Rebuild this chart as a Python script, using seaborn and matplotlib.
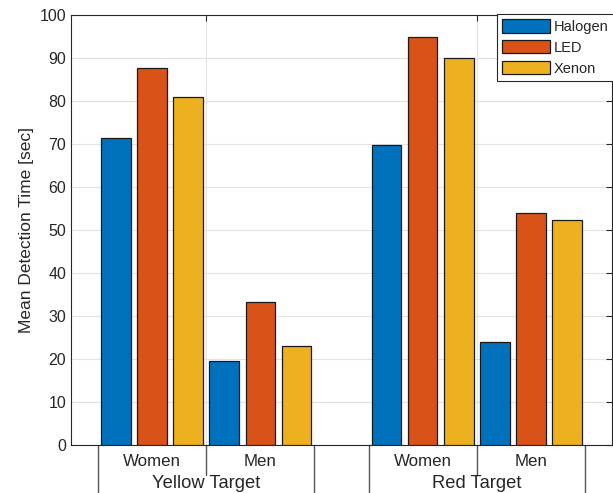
import pandas as pd
import seaborn as sns
import matplotlib.pyplot as plt
from matplotlib.patches import Patch
import matplotlib.transforms as mtransforms

# chart values (order: Yellow/Women, Yellow/Men, Red/Women, Red/Men)
targets = ['Yellow Target', 'Red Target']
genders = ['Women', 'Men']
lamps = ['Halogen', 'LED', 'Xenon']
halogen = [71.4, 19.6, 69.8, 24.0]
led = [87.6, 33.2, 95.0, 53.9]
xenon = [80.9, 23.1, 90.1, 52.3]

colors = {'Halogen': '#0072BD', 'LED': '#D95319', 'Xenon': '#EDB120'}

# long-form table for seaborn
rows = []
values = {'Halogen': halogen, 'LED': led, 'Xenon': xenon}
for ti, t in enumerate(targets):
    for gi, g in enumerate(genders):
        for lamp in lamps:
            rows.append({'target': t, 'gender': g, 'lamp': lamp,
                         'combo': g + ' ' + lamp,
                         'time': values[lamp][ti * 2 + gi]})
df = pd.DataFrame(rows)
hue_order = [g + ' ' + l for g in genders for l in lamps]
palette = {g + ' ' + l: colors[l] for g in genders for l in lamps}

sns.set_style('white')
plt.rcParams['font.family'] = ['Liberation Sans', 'DejaVu Sans']

fig = plt.figure(figsize=(6.13, 4.93), dpi=100)
ax = fig.add_axes([71 / 613, 48 / 493, 541 / 613, 430 / 493])

sns.barplot(data=df, x='target', y='time', hue='combo', order=targets,
            hue_order=hue_order, palette=palette, width=0.8, gap=0.18,
            saturation=1, edgecolor='#1a1a1a', linewidth=0.9, errorbar=None,
            legend=False, ax=ax, zorder=3)

ax.set_xlim(-0.5, 1.5)
ax.set_ylim(0, 100)
ax.set_yticks(range(0, 101, 10))
ax.set_xticks([0, 1])
ax.set_xticklabels(['', ''])
ax.set_xlabel('')
ax.set_ylabel('Mean Detection Time [sec]', fontsize=12.5, color='#262626')
ax.grid(True, color='#e3e3e3', linewidth=0.8, zorder=0)
ax.set_axisbelow(True)
ax.tick_params(axis='both', direction='in', top=True, right=True,
               length=4, width=0.8, colors='#262626', labelsize=11.5)
ax.tick_params(axis='x', pad=0)
for s in ax.spines.values():
    s.set_color('#262626')
    s.set_linewidth(0.8)

# grouped category labels under the axis
trans = mtransforms.blended_transform_factory(ax.transData, ax.transAxes)
px = 1 / 430
for ti, t in enumerate(targets):
    for edge in (ti - 0.4, ti + 0.4):
        ax.plot([edge, edge], [0, -48 * px], transform=trans, color='#555555',
                linewidth=1, clip_on=False)
    ax.plot([ti, ti], [0, -30 * px], transform=trans, color='#555555',
            linewidth=1, clip_on=False)
    for gi, g in enumerate(genders):
        ax.text(ti - 0.2 + 0.4 * gi, -17 * px, g, transform=trans,
                ha='center', va='center', fontsize=12.2, color='#262626')
    ax.text(ti, -39 * px, t, transform=trans, ha='center', va='center',
            fontsize=13.2, color='#262626')

handles = [Patch(facecolor=colors[l], edgecolor='#1a1a1a', linewidth=0.9)
           for l in lamps]
leg = ax.legend(handles, lamps, loc='upper left',
                bbox_to_anchor=(497 / 613, 479 / 493),
                bbox_transform=fig.transFigure, fontsize=10.5,
                handlelength=3.3, handleheight=1.05, labelspacing=0.42,
                borderpad=0.35, handletextpad=0.25, borderaxespad=0,
                fancybox=False, framealpha=1, edgecolor='#262626')
leg.get_frame().set_linewidth(0.8)

fig.savefig('out.png', dpi=100)
